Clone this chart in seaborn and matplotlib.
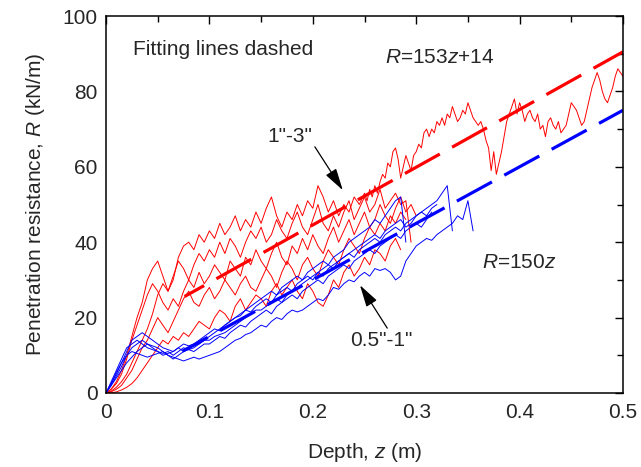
import numpy as np
import pandas as pd
import matplotlib
matplotlib.use("Agg")
import matplotlib.pyplot as plt
import seaborn as sns

STEP = 0.005      # sampling interval of depth (m)
STEP_FINE = 0.0025

# ---- red traces (1"-3") : penetration resistance R (kN/m) sampled every 0.005 m
red_1 = [0,1,3,6,10,15,20,24,30,33,
         35,31,27,30,36,39,40,38,42,40,
         43,41,45,42,44,47,43,46,44,48,
         45,49,52,47,44,48,46,50,47,51,
         49,55,52,48,51,47,50,48,52,50]
# continuation of red_1 from z = 0.25 m, sampled every 0.0025 m
red_1_start = 0.25
red_1b = [53,51,54,52,55,53,56,58,57,61,
          60,64,65,62,57,60,63,61,59,63,
          64,66,65,69,70,68,70,69,72,71,
          73,71,74,73,76,74,72,73,75,74,
          77,75,73,72,71,72,70,67,65,59,
          64,58,61,64,68,72,74,76,78,74,
          77,75,72,74,75,73,72,74,70,71,
          68,72,73,71,70,72,69,70,71,74,
          77,76,75,73,71,72,75,78,81,83,
          85,83,80,78,77,79,81,84,86,85,
          84]
red_2 = [0,0.5,1.5,3,5,8,11,14,17,21,
         26,29,27,31,35,33,30,34,37,35,
         38,36,40,37,41,39,36,40,43,41,
         44,40,42,46,43,41,45,48,44,42,
         46,50,45,43,47,44,48,51,46,49,
         52,48,50,54,49,51,53,50,51,40]
red_3 = [0,0.3,1,2,4,6,9,12,14,17,
         20,18,16,19,22,25,27,24,23,26,
         28,25,27,30,28,26,29,31,28,27,
         30,33,31,28,32,35,33,30,34,36,
         33,31,35,38,36,34,38,41,39,37,
         41,44,42,45,43,47,45,48,46]
red_4 = [0,0,0.3,0.8,1.5,2.5,4,6,8,10,
         12,14,13,15,14,16,15,17,19,18,
         17,20,22,21,19,23,25,22,24,26,
         25,23,27,29,26,28,30,27,25,29,
         27,24,23,26,30,28,32,34,31,33,
         36,34,38,37,35,39,41,38]
red_5 = [0,1,2.5,5,9,14,18,22,26,29,
         27,24,22,25,23,27,30,28,32,29,
         31,34,32,30,35,33,31,36,34,38,
         35,33,37,40,36,34,39,37,41,38,
         42,39,37,41,44,40,43,46,42,45,
         48,44,46,50,47,45,49,52,48,50,
         47]

# ---- blue traces (0.5"-1")
blue_1 = [0,2,4,6,8,9.5,11,12,13,12.5,
          12,11,10,9.5,9,8.5,9,9.5,9,9.5,
          10,10.5,11,12,13,14,14.5,15.5,16,17,
          18,17.5,19,20,19.5,21,22,21.5,22,23,
          24,25,24.5,26,28,27.5,29,30,29.5,31,
          32,31,33,32.5,33,32,30,31,35,37,
          39,40,41,40.5,42,43,44,45,47,46,
          51,43]
blue_2 = [0,2.5,5,8,11,14,15,16,15,14,
          13,12,11.5,11,12,11,12,12.5,13,14,
          14,15,15.5,16,17,18,19,20,21,22,
          22,23,24,25,24,26,27,28,29,30,
          31,32,31,33,34,35,36,37,38,39,
          40,41,42,41,43,44,45,46,44,45,
          47,48,49,50,51,53,55,43]
blue_3 = [0,3,6,9,12,13,14,13,12,11.5,
          11,10.5,11,10,11,12,11.5,12,13,14,
          15,16,17,18,19,20,20.5,22,23,24,
          25,26,27,26,28,29,30,31,30,32,
          33,34,35,34,36,37,38,40,41,42,
          43,44,46,45,47,49,51,52,40]
blue_4 = [0,2,4.5,7,10,12,13,14,13,12,
          11,10,10.5,11,12,13,12.5,13,14,15,
          16,17,16.5,18,19,20,21,22,21.5,23,
          24,25,24,26,27,28,27,29,30,31,
          30,32,33,34,33,35,36,37,36,38,
          39,40,41,40,42,43,44,43,45,46,
          47,48,47,49,50]
blue_5 = [0,2.5,5.5,8,10,11,10.5,10,9.5,10,
          10.5,11,10,9,10,11,11.5,11,12,13,
          13,14,15,14.5,16,17,18,17.5,19,20,
          21,22,21,23,24,25,26,25,27,28,
          29,30,29,31,32,33,34,33,35,36,
          37,38,37,39,40,41,42,41,43,44,
          45,44,46,48]

# ---- fitting lines (end points)
fit_red_z = [0.076, 0.5]
fit_red_R = [25.6, 90.5]
fit_blue_z = [0.074, 0.5]
fit_blue_R = [11.1, 75.0]

x_ticks = [0, 0.1, 0.2, 0.3, 0.4, 0.5]
x_tick_labels = ["0", "0.1", "0.2", "0.3", "0.4", "0.5"]
y_ticks = [0, 20, 40, 60, 80, 100]
y_tick_labels = ["0", "20", "40", "60", "80", "100"]

sns.set_style("white")
plt.rcParams["font.family"] = ["Liberation Sans", "DejaVu Sans"]
plt.rcParams["mathtext.fontset"] = "custom"
plt.rcParams["mathtext.it"] = "Liberation Sans:italic"
plt.rcParams["mathtext.rm"] = "Liberation Sans"

fig = plt.figure(figsize=(6.41, 4.67), dpi=100)
ax = fig.add_axes([106/641, 74/467, 517/641, 377/467])

def trace(z, vals, color):
    df = pd.DataFrame({"z": z, "R": vals})
    sns.lineplot(data=df, x="z", y="R", color=color, lw=0.7, sort=False,
                 estimator=None, ax=ax)

z1 = np.concatenate([np.arange(len(red_1)) * STEP,
                     red_1_start + np.arange(len(red_1b)) * STEP_FINE])
trace(z1, red_1 + red_1b, "#ff0000")
for v in [red_2, red_3, red_4, red_5]:
    trace(np.arange(len(v)) * STEP, v, "#ff0000")
for v in [blue_1, blue_2, blue_3, blue_4, blue_5]:
    trace(np.arange(len(v)) * STEP, v, "#0000ff")

lw_fit = 2.3
sns.lineplot(x=fit_red_z, y=fit_red_R, color="#ff0000", lw=lw_fit, ax=ax,
             linestyle=(5.5, (12.5, 4.4)))
sns.lineplot(x=fit_blue_z, y=fit_blue_R, color="#0000ff", lw=lw_fit, ax=ax,
             linestyle=(3.5, (12.5, 4.4)))

ax.set_xlim(0, 0.5)
ax.set_ylim(0, 100)
ax.set_xticks(x_ticks)
ax.set_xticklabels(x_tick_labels)
ax.set_yticks(y_ticks)
ax.set_yticklabels(y_tick_labels)
ax.set_xticks(np.arange(0.05, 0.5, 0.1), minor=True)
ax.set_yticks(np.arange(10, 100, 20), minor=True)
ax.tick_params(which="both", direction="in", top=True, right=True,
               labelsize=15, width=1.0, color="k")
ax.tick_params(axis="x", which="major", pad=7)
ax.tick_params(axis="y", which="major", pad=6)
ax.tick_params(which="major", length=6)
ax.tick_params(which="minor", length=4)
for s in ax.spines.values():
    s.set_linewidth(1.1)
    s.set_color("k")

ax.set_xlabel("Depth, $z$ (m)", fontsize=15, labelpad=14)
ax.set_ylabel("Penetration resistance, $R$ (kN/m)", fontsize=15, labelpad=11)

ax.text(0.026, 91, "Fitting lines dashed", fontsize=15, ha="left", va="center")
ax.text(0.270, 89, "$R$=153$z$+14", fontsize=15, ha="left", va="center")
ax.text(0.364, 34.7, "$R$=150$z$", fontsize=15, ha="left", va="center")

ap = dict(arrowstyle="-|>,head_length=0.9,head_width=0.25", color="k", lw=0.9,
          shrinkA=0, shrinkB=0, mutation_scale=15)
ax.annotate("", xy=(0.229, 53.8), xytext=(0.202, 65.3), arrowprops=ap)
ax.text(0.178, 68, '1"-3"', fontsize=15, ha="center", va="center")
ax.annotate("", xy=(0.2456, 28.6), xytext=(0.272, 17.2), arrowprops=ap)
ax.text(0.266, 13.8, '0.5"-1"', fontsize=15, ha="center", va="center")

fig.savefig("out.png", dpi=100)
